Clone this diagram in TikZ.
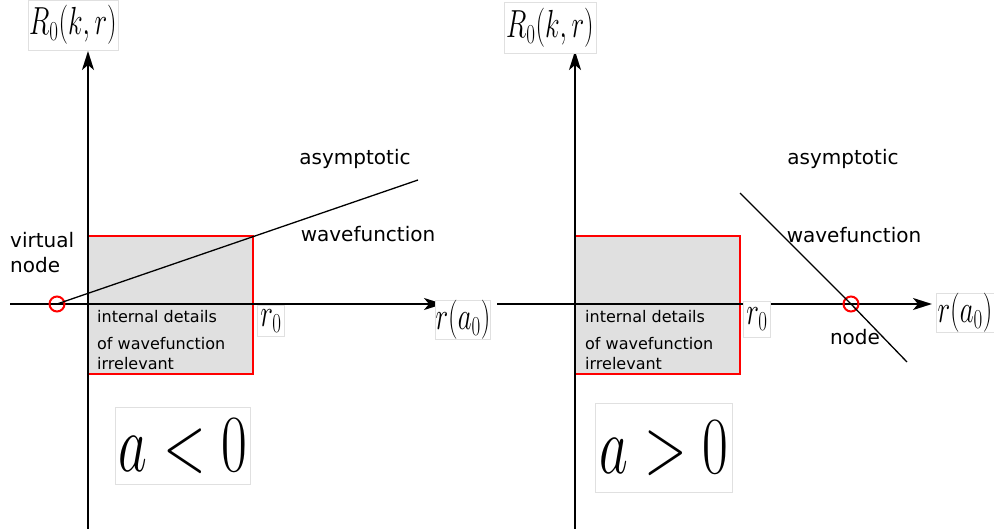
\RequirePackage{fix-cm}
\documentclass[tikz,border=0pt]{standalone}
\usepackage{graphicx}
\usepackage{fontspec}
\newfontfamily\labelfont{DejaVu Sans}
\usetikzlibrary{arrows.meta,positioning}

\newcommand{\tallmath}[1]{\scalebox{1}[1.45]{$#1$}}

\begin{document}
\begin{tikzpicture}[x=1pt,y=-1pt,
  axis/.style={line width=2pt,-{Stealth[length=19pt,width=12pt,inset=5pt]}},
  wall/.style={draw=red,line width=2pt,fill=black!12},
  asym/.style={line width=1.3pt},
  zero/.style={circle,draw=red,line width=2pt,minimum size=15pt,inner sep=0pt},
  mlabel/.style={draw=black!12,line width=0.6pt,fill=white,inner sep=0pt,
    font=\fontsize{27}{30}\selectfont},
  biglabel/.style={draw=black!12,line width=0.6pt,fill=white,inner sep=0pt,
    font=\fontsize{56}{60}\selectfont},
  txt/.style={font=\labelfont\fontsize{20}{24}\selectfont,inner sep=0pt},
  smalltxt/.style={font=\labelfont\fontsize{16}{20}\selectfont,inner sep=0pt,anchor=base west}
]
\fill[white] (0,0) rectangle (994,529);
\useasboundingbox (0,0) rectangle (994,529);

% left panel: a<0
\draw[wall] (88,236) rectangle (253,374);
\coordinate (ybotL) at (88,529);
\coordinate (ytopL) at (88,51);
\coordinate (xleftL) at (10,304);
\coordinate (xtipL) at (443,304);
\draw[axis] (ybotL) -- (ytopL);
\draw[axis] (xleftL) -- (xtipL);
\node[mlabel,minimum width=90pt,minimum height=50pt] (RL) at (73,25) {\tallmath{R_0(k,r)}};
\node[mlabel,minimum width=55pt,minimum height=36pt] (rL) at (463,320) {\tallmath{r(a_0)}};
\node[mlabel,minimum width=27pt,minimum height=31pt] (r0L) at (271,321) {\tallmath{r_0}};
\node[zero] (vnode) at (57,304) {};
\coordinate (asymL) at (418,180);
\draw[asym] (vnode.center) -- (asymL);
\node[txt,anchor=base west] (virtL) at (10,248) {virtual};
\node[txt,anchor=base west] (nodeL) at (10,273) {node};
\node[txt,anchor=base] (asymtxtL) at (355,165) {asymptotic};
\node[txt,anchor=base] (wavetxtL) at (368,242) {wavefunction};
\node[smalltxt] (int1L) at (97,323) {internal details};
\node[smalltxt] (int2L) at (97,350) {of wavefunction};
\node[smalltxt] (int3L) at (97,370) {irrelevant};
\node[biglabel,minimum width=135pt,minimum height=77pt] (aneg) at (183,446) {\tallmath{a<0}};

% right panel: a>0
\draw[wall] (575,236) rectangle (740,374);
\coordinate (ybotR) at (575,529);
\coordinate (ytopR) at (575,51);
\coordinate (xleftR) at (497,304);
\coordinate (xtipR) at (932,304);
\draw[axis] (ybotR) -- (ytopR);
\draw[axis] (xleftR) -- (xtipR);
\node[mlabel,minimum width=92pt,minimum height=51pt] (RR) at (550,28) {\tallmath{R_0(k,r)}};
\node[mlabel,minimum width=58pt,minimum height=37pt] (rR) at (965,313) {\tallmath{r(a_0)}};
\node[mlabel,minimum width=27pt,minimum height=36pt] (r0R) at (757,319) {\tallmath{r_0}};
\coordinate (asymRtop) at (740,193);
\coordinate (asymRbot) at (907,362);
\node[zero] (rnode) at (851,304) {};
\draw[asym] (asymRtop) -- (rnode.center) -- (asymRbot);
\node[txt,anchor=base] (asymtxtR) at (843,165) {asymptotic};
\node[txt,anchor=base] (wavetxtR) at (854,243) {wavefunction};
\node[txt,anchor=base] (nodeR) at (855,345) {node};
\node[smalltxt] (int1R) at (585,323) {internal details};
\node[smalltxt] (int2R) at (585,350) {of wavefunction};
\node[smalltxt] (int3R) at (585,370) {irrelevant};
\node[biglabel,minimum width=137pt,minimum height=89pt] (apos) at (664,448) {\tallmath{a>0}};
\end{tikzpicture}
\end{document}
